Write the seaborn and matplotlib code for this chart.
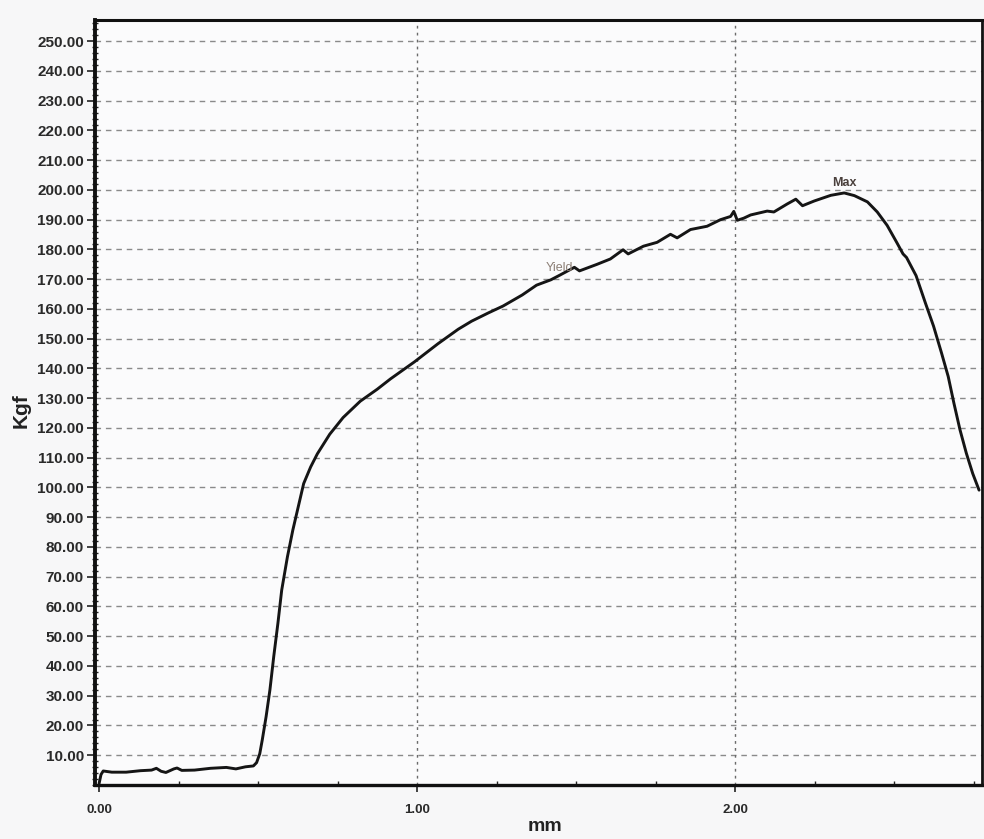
import matplotlib
matplotlib.use("Agg")
import matplotlib.pyplot as plt
from matplotlib.ticker import MultipleLocator, FormatStrFormatter
import numpy as np
import pandas as pd
import seaborn as sns

# Load-displacement record of the tensile test
displacement_mm = [
    0.000, 0.006, 0.013, 0.040, 0.085, 0.130, 0.165, 0.180, 0.195, 0.210,
    0.235, 0.245, 0.260, 0.300, 0.350, 0.400, 0.430, 0.460, 0.485,
    0.495, 0.505, 0.513, 0.525, 0.537, 0.549, 0.562, 0.574, 0.592, 0.609,
    0.626, 0.643, 0.665, 0.686, 0.725, 0.767, 0.821, 0.874, 0.916, 0.991,
    1.065, 1.129, 1.171, 1.224, 1.270, 1.330, 1.375, 1.420, 1.447, 1.494,
    1.510, 1.565, 1.607, 1.647, 1.663, 1.711, 1.754, 1.796, 1.817, 1.859,
    1.911, 1.953, 1.985, 1.995, 2.006, 2.026, 2.048, 2.068, 2.100, 2.121,
    2.163, 2.190, 2.211, 2.248, 2.300, 2.342, 2.374, 2.415, 2.446, 2.477,
    2.507, 2.527, 2.538, 2.568, 2.597, 2.623, 2.648, 2.669, 2.687, 2.706,
    2.726, 2.746, 2.766,
]
load_kgf = [
    0.5, 3.5, 4.7, 4.3, 4.3, 4.8, 5.0, 5.6, 4.6, 4.2,
    5.4, 5.7, 4.9, 5.0, 5.6, 5.9, 5.4, 6.1, 6.4,
    7.5, 10.5, 15.2, 23.0, 32.0, 43.2, 54.3, 65.5, 76.7, 85.7,
    93.5, 101.3, 106.9, 111.3, 117.9, 123.5, 129.0, 133.0, 136.5, 142.2,
    148.3, 153.2, 155.9, 158.7, 161.0, 164.7, 168.0, 169.8, 171.3, 174.0,
    172.8, 175.0, 176.8, 179.9, 178.5, 181.1, 182.4, 185.1, 183.9, 186.7,
    187.8, 190.0, 191.1, 192.8, 189.8, 190.5, 191.6, 192.1, 192.9, 192.6,
    195.3, 196.9, 194.7, 196.3, 198.2, 199.0, 198.1, 196.0, 192.6, 188.1,
    182.4, 178.5, 177.3, 171.2, 162.1, 154.2, 145.2, 137.3, 128.3, 119.4,
    111.5, 104.7, 99.1,
]

# Axis ticks
x_ticks = [0.0, 1.0, 2.0]
y_ticks = [10, 20, 30, 40, 50, 60, 70, 80, 90, 100, 110, 120, 130,
           140, 150, 160, 170, 180, 190, 200, 210, 220, 230, 240, 250]

# Marked points on the curve
yield_mm, yield_kgf = 1.447, 171.3

sns.set_theme(style="white")
plt.rcParams["font.family"] = ["Liberation Sans", "DejaVu Sans"]

fig = plt.figure(figsize=(9.84, 8.39), dpi=100, facecolor="#f7f7f8")
ax = fig.add_axes([0.0965, 0.0644, 0.9014, 0.9113], facecolor="#fbfbfc")

df = pd.DataFrame({"mm": displacement_mm, "Kgf": load_kgf})
sns.lineplot(data=df, x="mm", y="Kgf", ax=ax, color="#151515",
             linewidth=2.1, estimator=None, sort=False)

ax.set_xlim(-0.013, 2.775)
ax.set_ylim(0, 257)

ax.set_xticks(x_ticks)
ax.set_yticks(y_ticks)
ax.xaxis.set_major_formatter(FormatStrFormatter("%.2f"))
ax.yaxis.set_major_formatter(FormatStrFormatter("%.2f"))
ax.xaxis.set_minor_locator(MultipleLocator(0.25))
ax.yaxis.set_minor_locator(MultipleLocator(2))

# Dashed horizontal grid, dotted verticals at whole millimetres
ax.grid(False)
for yv in y_ticks:
    ax.axhline(yv, color="#8a8a8a", linewidth=1.0, linestyle=(0, (4, 3.5)), zorder=0)
for xv in x_ticks[1:]:
    ax.axvline(xv, color="#6a6a6a", linewidth=1.0, linestyle=(0, (2, 3)), zorder=0)

ax.tick_params(axis="y", which="major", direction="out", length=6, width=1.2,
               color="#222222", labelsize=11, labelcolor="#2a2a2a", pad=2, left=True)
ax.tick_params(axis="y", which="minor", direction="inout", length=4, width=1.0,
               color="#222222", left=True)
ax.tick_params(axis="x", which="major", direction="out", length=5, width=1.2,
               color="#222222", labelsize=9.5, labelcolor="#2a2a2a", pad=9, bottom=True)
ax.tick_params(axis="x", which="minor", direction="in", length=3, width=1.0,
               color="#222222", bottom=True)
plt.setp(ax.get_yticklabels(), fontweight="bold")
plt.setp(ax.get_xticklabels(), fontweight="bold")

for side, lw in [("left", 2.8), ("bottom", 2.4), ("top", 2.2), ("right", 2.0)]:
    ax.spines[side].set_visible(True)
    ax.spines[side].set_color("#111111")
    ax.spines[side].set_linewidth(lw)

ax.set_xlabel("mm", fontsize=14, fontweight="bold", color="#222222")
ax.set_ylabel("Kgf", fontsize=15, fontweight="bold", color="#222222")
ax.xaxis.set_label_coords(0.507, -0.043)
ax.yaxis.set_label_coords(-0.073, 0.49)

# Yield and maximum-load markers
max_idx = int(np.argmax(load_kgf))
ax.annotate("Yield", xy=(yield_mm, yield_kgf), xytext=(0, 5),
            textcoords="offset points", ha="center", va="center",
            fontsize=9, color="#8c7f76")
ax.annotate("Max", xy=(displacement_mm[max_idx], load_kgf[max_idx]),
            xytext=(0, 7), textcoords="offset points", ha="center", va="center",
            fontsize=9, fontweight="bold", color="#4a403c")

fig.savefig("out.png", dpi=100, facecolor=fig.get_facecolor())
